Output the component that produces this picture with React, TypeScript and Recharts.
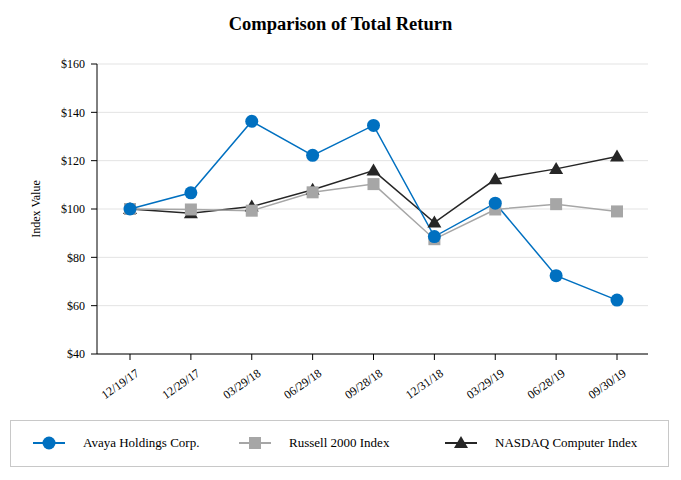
import React from "react";
import { LineChart, Line, XAxis, YAxis, CartesianGrid, Label } from "recharts";

const dates = ["12/19/17", "12/29/17", "03/29/18", "06/29/18", "09/28/18", "12/31/18", "03/29/19", "06/28/19", "09/30/19"];
const avaya = [100, 106.7, 136.3, 122.2, 134.6, 88.6, 102.4, 72.4, 62.3];
const russell = [100, 99.8, 99.3, 106.9, 110.3, 87.5, 99.8, 102.0, 99.0];
const nasdaq = [100, 98.2, 101.0, 108.0, 115.9, 94.4, 112.3, 116.6, 121.7];
const yTicks = [40, 60, 80, 100, 120, 140, 160];

const BLUE = "#0070C0";
const GREY = "#A6A6A6";
const DARK = "#262626";
const FONT = "'Liberation Serif', 'Times New Roman', serif";

const data = dates.map((d, i) => ({ date: d, avaya: avaya[i], russell: russell[i], nasdaq: nasdaq[i] }));

const CircleDot = (p: any) => <circle key={p.key ?? p.index} cx={p.cx} cy={p.cy} r={6.5} fill={BLUE} />;
const SquareDot = (p: any) => <rect key={p.key ?? p.index} x={p.cx - 6} y={p.cy - 6} width={12} height={12} fill={GREY} />;
const TriDot = (p: any) => (
  <path key={p.key ?? p.index} d={`M${p.cx},${p.cy - 7}L${p.cx + 7},${p.cy + 5}L${p.cx - 7},${p.cy + 5}Z`} fill={DARK} />
);

const XTick = (p: any) => (
  <g transform={`translate(${p.x + 5},${p.y + 6})`}>
    <text x={0} y={0} dy="0.71em" textAnchor="end" transform="rotate(-35)" fontFamily={FONT} fontSize={12} fill="#000">
      {p.payload.value}
    </text>
  </g>
);

const legendItems = [
  { name: "Avaya Holdings Corp.", color: BLUE, shape: "circle" },
  { name: "Russell 2000 Index", color: GREY, shape: "square" },
  { name: "NASDAQ Computer Index", color: DARK, shape: "triangle" },
];

function LegendMarker({ color, shape }: { color: string; shape: string }) {
  return (
    <svg width={34} height={16} style={{ display: "block" }}>
      <line x1={1} y1={8} x2={33} y2={8} stroke={color} strokeWidth={2} />
      {shape === "circle" && <circle cx={17} cy={8} r={6.5} fill={color} />}
      {shape === "square" && <rect x={11} y={2} width={12} height={12} fill={color} />}
      {shape === "triangle" && <path d="M17,1L24,13L10,13Z" fill={color} />}
    </svg>
  );
}

export default function App() {
  return (
    <div style={{ position: "absolute", left: 0, top: 0, width: 681, height: 480, background: "#fff" }}>
      <div
        style={{
          position: "absolute",
          top: 14,
          left: 0,
          width: 681,
          textAlign: "center",
          fontFamily: FONT,
          fontWeight: "bold",
          fontSize: 18.5,
          color: "#000",
        }}
      >
        Comparison of Total Return
      </div>
      <LineChart width={681} height={480} data={data} margin={{ top: 64, right: 33, bottom: 96, left: 0 }}>
        <CartesianGrid vertical={false} stroke="#e3e3e3" />
        <XAxis
          dataKey="date"
          padding={{ left: 33, right: 31 }}
          stroke="#000"
          tickSize={6}
          tick={<XTick />}
          interval={0}
        />
        <YAxis
          width={97}
          domain={[40, 160]}
          ticks={yTicks}
          interval={0}
          tickFormatter={(v: number) => `$${v}`}
          stroke="#000"
          tickSize={6}
          tickMargin={6}
          tick={{ fontFamily: FONT, fontSize: 12, fill: "#000" }}
        >
          <Label
            content={(p: any) => {
              const vb = p.viewBox || {};
              const cx = 40;
              const cy = vb.y + vb.height / 2;
              return (
                <text x={cx} y={cy} transform={`rotate(-90 ${cx} ${cy})`} textAnchor="middle" fontFamily={FONT} fontSize={12} fill="#000">
                  Index Value
                </text>
              );
            }}
          />
        </YAxis>
        <Line dataKey="nasdaq" stroke={DARK} strokeWidth={1.5} dot={TriDot} isAnimationActive={false} />
        <Line dataKey="russell" stroke={GREY} strokeWidth={1.5} dot={SquareDot} isAnimationActive={false} />
        <Line dataKey="avaya" stroke={BLUE} strokeWidth={1.5} dot={CircleDot} isAnimationActive={false} />
      </LineChart>
      <div
        style={{
          position: "absolute",
          left: 10,
          top: 420,
          width: 657,
          height: 45,
          border: "1px solid #c8c8c8",
          boxSizing: "content-box",
          fontFamily: FONT,
          fontSize: 13,
          color: "#000",
        }}
      >
        {legendItems.map((it, i) => (
          <div
            key={it.name}
            style={{ position: "absolute", left: 21 + i * 206, top: 14, display: "flex", alignItems: "center", gap: 17 }}
          >
            <LegendMarker color={it.color} shape={it.shape} />
            <span>{it.name}</span>
          </div>
        ))}
      </div>
    </div>
  );
}
